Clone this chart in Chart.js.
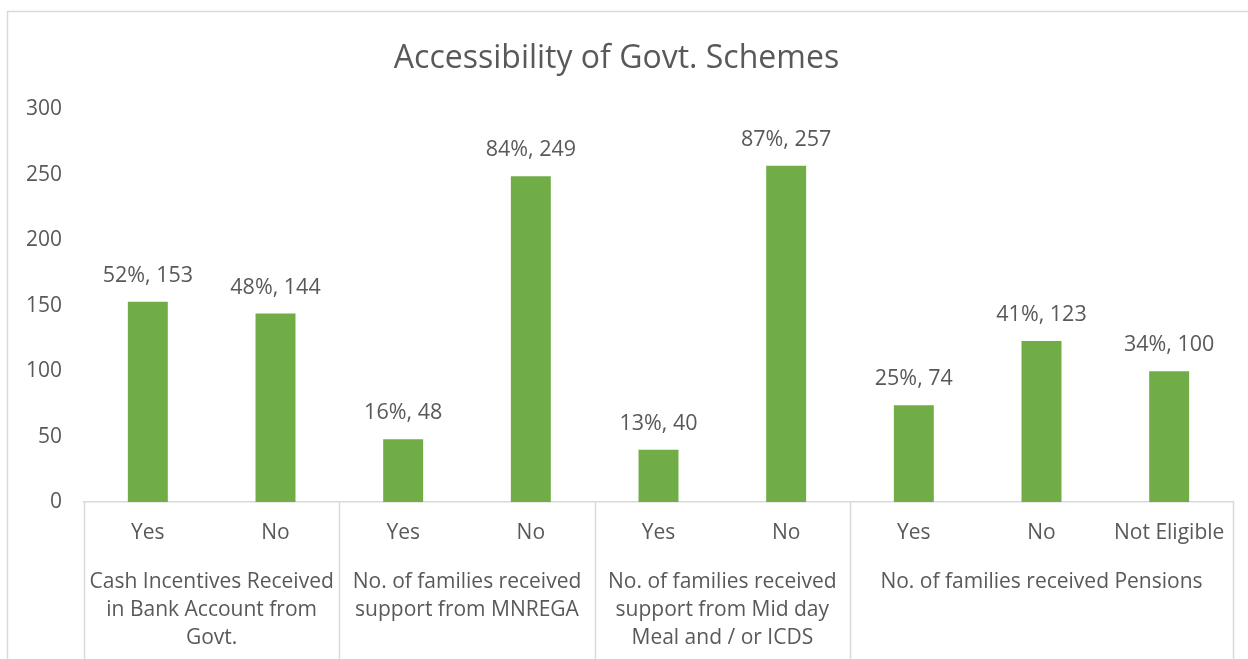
<!DOCTYPE html>
<html>
<head>
<meta charset="utf-8">
<script src="https://cdn.jsdelivr.net/npm/chart.js@4.4.0/dist/chart.umd.min.js"></script>
<style>
    html, body { margin: 0; padding: 0; background: #fff; overflow: hidden; }
    canvas { display: block; }
</style>
</head>
<body>
<canvas id="chartSchemes" width="1248" height="659"></canvas>
<script>
// dados do gráfico
const categories = ["Yes", "No", "Yes", "No", "Yes", "No", "Yes", "No", "Not Eligible"];
const families = [153, 144, 48, 249, 40, 257, 74, 123, 100];
const percentages = [52, 48, 16, 84, 13, 87, 25, 41, 34];
const groupLabels = [
    ["Cash Incentives Received", "in Bank Account from", "Govt."],
    ["No. of families received", "support from MNREGA"],
    ["No. of families received", "support from Mid day", "Meal and / or ICDS"],
    ["No. of families received Pensions"]
];
const groupSizes = [2, 2, 2, 3];

const FONT = "'Open Sans', sans-serif";
const TEXT = "#595959";
const LINE = "#d9d9d9";

// moldura, rótulos de valor e eixo agrupado
const groupAxis = {
    id: "groupAxis",
    beforeDraw(chart) {
        const ctx = chart.ctx;
        ctx.save();
        ctx.strokeStyle = LINE;
        ctx.lineWidth = 1.5;
        ctx.beginPath();
        ctx.moveTo(7.5, chart.height);
        ctx.lineTo(7.5, 11.5);
        ctx.lineTo(chart.width, 11.5);
        ctx.stroke();
        ctx.restore();
    },
    afterDraw(chart) {
        const ctx = chart.ctx;
        const x = chart.scales.x;
        const area = chart.chartArea;
        ctx.save();

        // separadores dos grupos
        const edges = [x.getPixelForValue(-0.5)];
        let idx = 0;
        groupSizes.forEach(n => {
            idx += n;
            edges.push(x.getPixelForValue(idx - 0.5));
        });
        ctx.strokeStyle = LINE;
        ctx.lineWidth = 1.5;
        edges.forEach(e => {
            ctx.beginPath();
            ctx.moveTo(Math.round(e) + 0.5, area.bottom);
            ctx.lineTo(Math.round(e) + 0.5, chart.height);
            ctx.stroke();
        });

        // nomes dos grupos
        ctx.fillStyle = TEXT;
        ctx.font = "21px " + FONT;
        ctx.textAlign = "center";
        ctx.textBaseline = "middle";
        groupLabels.forEach((lines, i) => {
            const cx = (edges[i] + edges[i + 1]) / 2;
            lines.forEach((t, k) => ctx.fillText(t, cx, area.bottom + 80 + k * 28));
        });

        // rótulos "pct%, valor"
        ctx.font = "21.5px " + FONT;
        const meta = chart.getDatasetMeta(0);
        meta.data.forEach((bar, i) => {
            ctx.fillText(`${percentages[i]}%, ${families[i]}`, bar.x, bar.y - 26);
        });
        ctx.restore();
    }
};

new Chart(document.getElementById("chartSchemes"), {
    type: "bar",
    data: {
        labels: categories,
        datasets: [{
            label: "Families",
            data: families,
            backgroundColor: "#70ad47",
            borderWidth: 0,
            barPercentage: 0.313,
            categoryPercentage: 1.0
        }]
    },
    options: {
        responsive: false,
        devicePixelRatio: 1,
        animation: false,
        layout: {
            padding: { left: 0, right: 15, top: 0, bottom: 0 }
        },
        plugins: {
            legend: { display: false },
            tooltip: { enabled: false },
            title: {
                display: true,
                text: "Accessibility of Govt. Schemes",
                color: TEXT,
                font: { family: FONT, size: 32, weight: "normal", lineHeight: 1.2 },
                padding: { top: 40, bottom: 31 }
            }
        },
        scales: {
            x: {
                grid: { display: false, drawTicks: false },
                border: { display: true, color: LINE, width: 1.5 },
                ticks: {
                    color: TEXT,
                    font: { family: FONT, size: 21 },
                    padding: 18,
                    maxRotation: 0,
                    autoSkip: false
                },
                afterFit: s => { s.height = 157 }
            },
            y: {
                min: 0,
                max: 300,
                grid: { display: false, drawTicks: false },
                border: { display: false },
                ticks: {
                    stepSize: 50,
                    color: TEXT,
                    font: { family: FONT, size: 21 },
                    padding: 22
                },
                afterFit: s => { s.width = 84 }
            }
        }
    },
    plugins: [groupAxis]
});
</script>
</body>
</html>
